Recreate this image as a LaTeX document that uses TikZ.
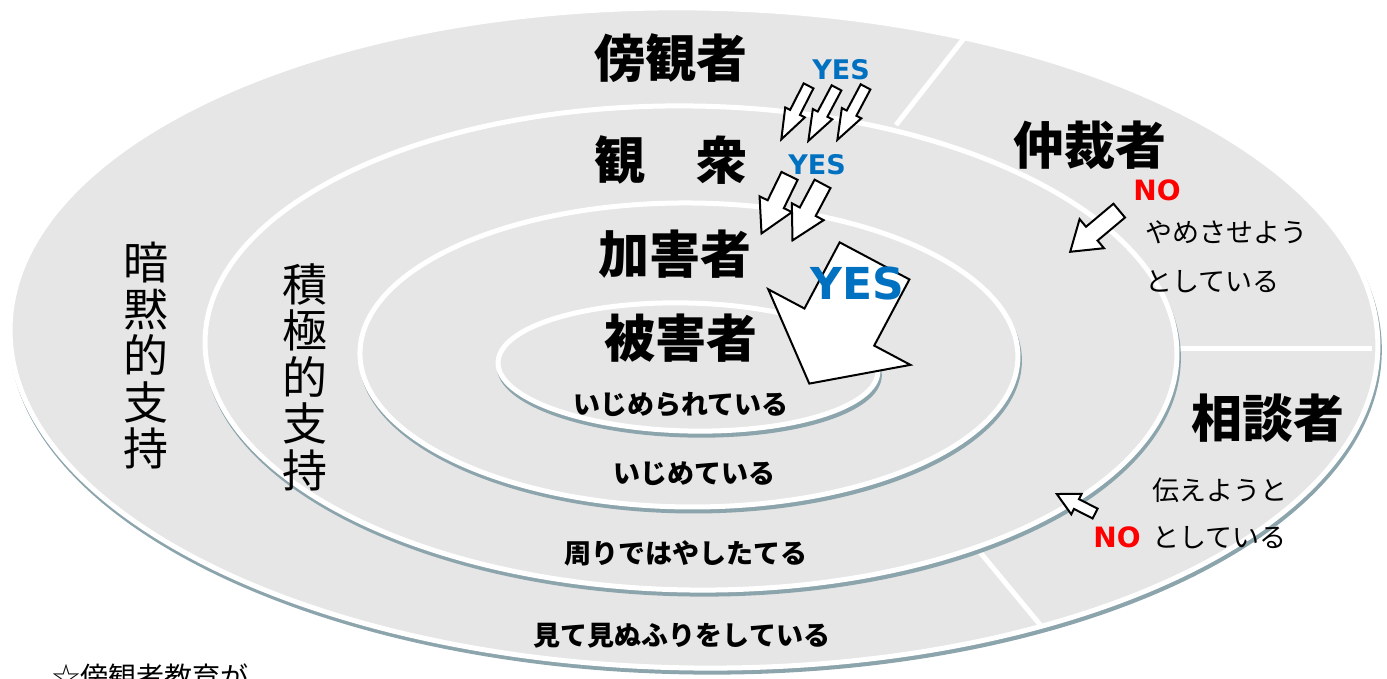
\documentclass[tikz,border=0pt]{standalone}
\usepackage{fontspec}
\usepackage{xcolor}
\usetikzlibrary{shapes.arrows}
\newfontfamily\jp{Noto Sans CJK JP}
\newfontfamily\latin{DejaVu Sans}
\definecolor{ringgray}{RGB}{230,230,230}
\definecolor{shadowblue}{RGB}{140,164,172}
\definecolor{yesblue}{RGB}{0,112,192}
\definecolor{nored}{RGB}{255,0,0}

\begin{document}
\begin{tikzpicture}[x=1pt, y=-1pt,
	ring/.style={fill=ringgray, draw=white, line width=5pt},
	ringshadow/.style={fill=shadowblue, draw=shadowblue, line width=5pt},
	divider/.style={draw=white, line width=5pt},
	role/.style={font=\jp\bfseries\fontsize{51}{51}\selectfont, inner sep=0pt},
	act/.style={font=\jp\bfseries\fontsize{27}{27}\selectfont, inner sep=0pt},
	support/.style={font=\jp\fontsize{45}{46.5}\selectfont, align=center, inner sep=0pt},
	note/.style={font=\jp\fontsize{27}{#1}\selectfont, align=left, anchor=west, inner sep=0pt},
	yes/.style={font=\latin\bfseries\fontsize{#1}{#1}\selectfont, text=yesblue, inner sep=0pt},
	no/.style={font=\latin\bfseries\fontsize{28}{28}\selectfont, text=nored, inner sep=0pt},
	push/.style n args={4}{single arrow, draw=black, fill=white, line width=2pt, inner sep=0pt,
		minimum height=#1, text height=#2, text depth=#2,
		single arrow head extend=#3, single arrow tip angle=#4, anchor=tail}]
	\clip (0,0) rectangle (1387,679);

	\coordinate (outerc) at (694,338);
	\coordinate (audc) at (691,348);
	\coordinate (bullyc) at (689,355);
	\coordinate (victimc) at (688,367);

	\path[ringshadow, rotate around={-0.85:(outerc)}] ([shift={(1.5,4)}]outerc) ellipse [x radius=684, y radius=330];
	\path[ring, rotate around={-0.85:(outerc)}] (outerc) ellipse [x radius=684, y radius=330];

	\draw[divider] (896,125) -- (965,37);
	\draw[divider] (1175,348) -- (1372,348);
	\draw[divider] (979,551) -- (1042,627);

	\path[ringshadow, rotate around={-0.9:(audc)}] ([shift={(1.5,4)}]audc) ellipse [x radius=486, y radius=242];
	\path[ring, rotate around={-0.9:(audc)}] (audc) ellipse [x radius=486, y radius=242];

	\path[ringshadow, rotate around={-0.35:(bullyc)}] ([shift={(1.5,4)}]bullyc) ellipse [x radius=329, y radius=152];
	\path[ring, rotate around={-0.35:(bullyc)}] (bullyc) ellipse [x radius=329, y radius=152];

	\path[ringshadow, rotate around={-1.4:(victimc)}] ([shift={(1.5,4)}]victimc) ellipse [x radius=190, y radius=64];
	\path[ring, rotate around={-1.4:(victimc)}] (victimc) ellipse [x radius=190, y radius=64];

	\node[role] (bystander) at (671,58) {傍観者};
	\node[role] (audience) at (671,160) {観　衆};
	\node[role] (bully) at (675,254) {加害者};
	\node[role] (victim) at (681,338) {被害者};
	\node[role] (mediator) at (1090,145) {仲裁者};
	\node[role] (consultant) at (1268,418) {相談者};

	\node[act] (bullied) at (681,405) {いじめられている};
	\node[act] (bullying) at (694,474) {いじめている};
	\node[act] (cheering) at (686,553) {周りではやしたてる};
	\node[act] (ignoring) at (682,636) {見て見ぬふりをしている};

	\node[support] (tacit) at (146,356) {暗\\黙\\的\\支\\持};
	\node[support] (active) at (305,377) {積\\極\\的\\支\\持};

	\node[note=49] (stopnote) at (1145,257) {やめさせよう\\としている};
	\node[note=47] (tellnote) at (1152,513) {伝えようと\\としている};

	\node[font=\jp\fontsize{28}{28}\selectfont, anchor=west, inner sep=0pt] (lesson) at (52,677) {☆傍観者教育が};

	\node[push={60}{4.5}{5.5}{40}, rotate=243] (thina) at (809,85) {};
	\node[push={60}{4.5}{5.5}{40}, rotate=242] (thinb) at (837,87) {};
	\node[push={60}{4.5}{5.5}{40}, rotate=242] (thinc) at (866,86) {};

	\node[push={64}{8}{9}{58}, rotate=244] (mida) at (790,175) {};
	\node[push={64}{8}{9}{58}, rotate=242] (midb) at (823,183) {};

	\node[push={139}{38.5}{41}{103}, rotate=242] (big) at (875,260) {};

	\node[push={64}{8}{10}{68}, rotate=220] (stoparrow) at (1120,210) {};
	\node[push={43}{4.5}{6}{55}, rotate=153] (tellarrow) at (1096,514) {};

	\node[yes=27] (yestop) at (841,70) {YES};
	\node[yes=27] (yesmid) at (817,165) {YES};
	\node[yes=44] (yesbig) at (857,283) {YES};
	\node[no] (nostop) at (1157,190) {NO};
	\node[no] (notell) at (1117,537) {NO};
\end{tikzpicture}
\end{document}
